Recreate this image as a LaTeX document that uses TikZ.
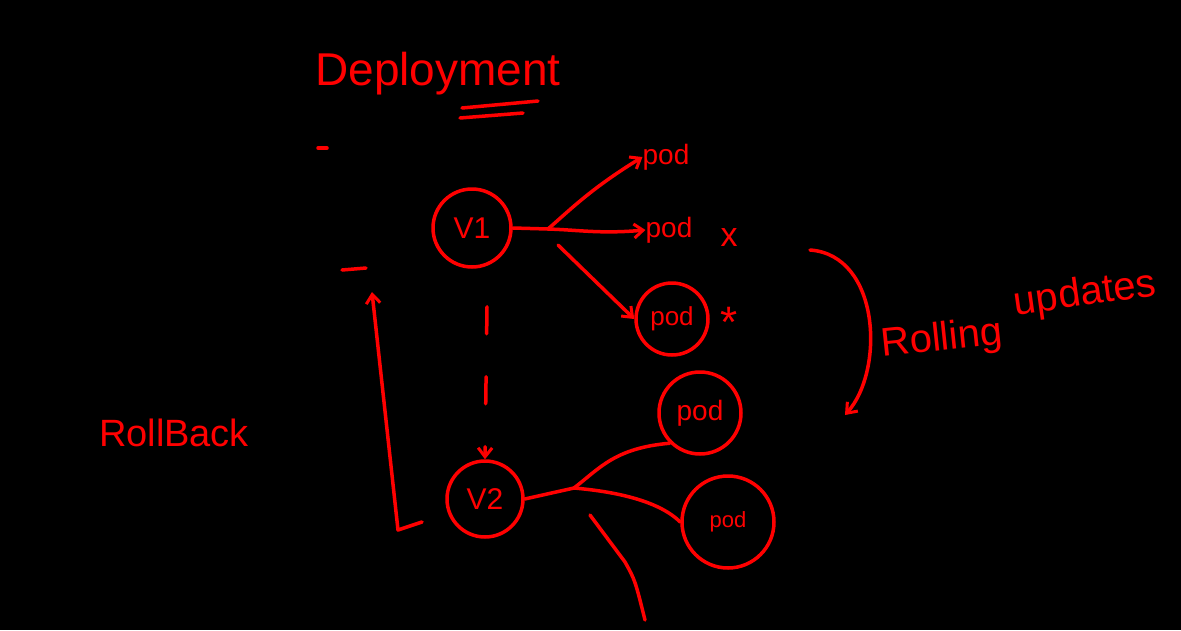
\documentclass[tikz,border=0pt]{standalone}
\usepackage{fontspec}
\setmainfont{Liberation Sans}
\usetikzlibrary{arrows.meta,calc}
\begin{document}
\begin{tikzpicture}[x=1pt,y=-1pt,
  ink/.style={draw=red,line width=3.5pt,line cap=round,line join=round},
  lbl/.style={text=red,inner sep=0pt},
  ring/.style={ink,circle,text=red,inner sep=0pt},
  tip/.style={-{Straight Barb[length=9pt,width=14pt,line width=3pt]}}
]
\fill[black] (0,0) rectangle (1181,630);
\useasboundingbox (0,0) rectangle (1181,630);

% title
\node[lbl,font=\fontsize{46}{46}\selectfont] (title) at (438,74) {Deployment};
\draw[ink] (462,108) -- (538,101);
\draw[ink] (460,118) -- (523,113);
\coordinate (dot1) at (322,148);
\draw[ink] (318,148) -- (327,148);

% version nodes
\node[ring,minimum size=78pt,font=\fontsize{30}{30}\selectfont] (V1) at (472,228) {V1};
\node[ring,minimum size=76pt,font=\fontsize{30}{30}\selectfont] (V2) at (485,499) {V2};

% pods of V1
\node[lbl,font=\fontsize{28}{28}\selectfont] (p1) at (666,157) {pod};
\node[lbl,font=\fontsize{28}{28}\selectfont] (p2) at (669,230) {pod};
\node[lbl,font=\fontsize{34}{34}\selectfont] (x2) at (729,238) {x};
\node[ring,minimum size=72pt,font=\fontsize{26}{26}\selectfont] (p3) at (672,319) {pod};
\node[lbl,font=\fontsize{44}{44}\selectfont] (x3) at (729,322) {*};

% pods of V2
\node[ring,minimum size=82pt,font=\fontsize{28}{28}\selectfont] (p4) at (700,413) {pod};
\node[ring,minimum size=92pt,font=\fontsize{22}{22}\selectfont] (p5) at (728,522) {pod};

% V1 fan-out
\coordinate (j1) at (548,229);
\draw[ink] (V1.east) -- (j1);
\draw[ink,tip] (j1) .. controls (572,208) and (592,188) .. (p1.west);
\draw[ink,tip] (j1) .. controls (580,230) and (600,234) .. (p2.west);
\coordinate (s3) at (558,245);
\draw[ink,tip] (s3) -- (p3.west);

% V1 -> V2 dashed
\draw[ink,tip,dash pattern=on 27pt off 43pt] ($(V1.south)+(15,38)$) -- (V2.north);

% V2 fan-out
\coordinate (j2) at (574,488);
\draw[ink] (V2.east) -- (j2);
\draw[ink] (j2) .. controls (600,468) and (615,448) .. (p4.south west);
\draw[ink] (j2) .. controls (620,492) and (660,502) .. (p5.west);
\coordinate (b1) at (590,515);
\coordinate (b2) at (645,620);
\draw[ink] (b1) -- (625,562) .. controls (635,580) .. (b2);

% Rollback
\coordinate (r0) at (422,522);
\coordinate (r1) at (398,530);
\coordinate (r2) at (372,292);
\draw[ink,tip] (r0) -- (r1) -- (r2);
\draw[ink] (342,270) -- (366,268);
\node[lbl,font=\fontsize{38}{38}\selectfont] (rb) at (174,433) {RollBack};

% Rolling updates
\coordinate (u0) at (810,250);
\coordinate (u1) at (845,415);
\draw[ink,tip] (u0) .. controls (880,255) and (885,370) .. (u1);
\node[lbl,font=\fontsize{40}{40}\selectfont,rotate=6] (ru1) at (942,340) {Rolling};
\node[lbl,font=\fontsize{40}{40}\selectfont,rotate=8] (ru2) at (1085,295) {updates};
\end{tikzpicture}
\end{document}
